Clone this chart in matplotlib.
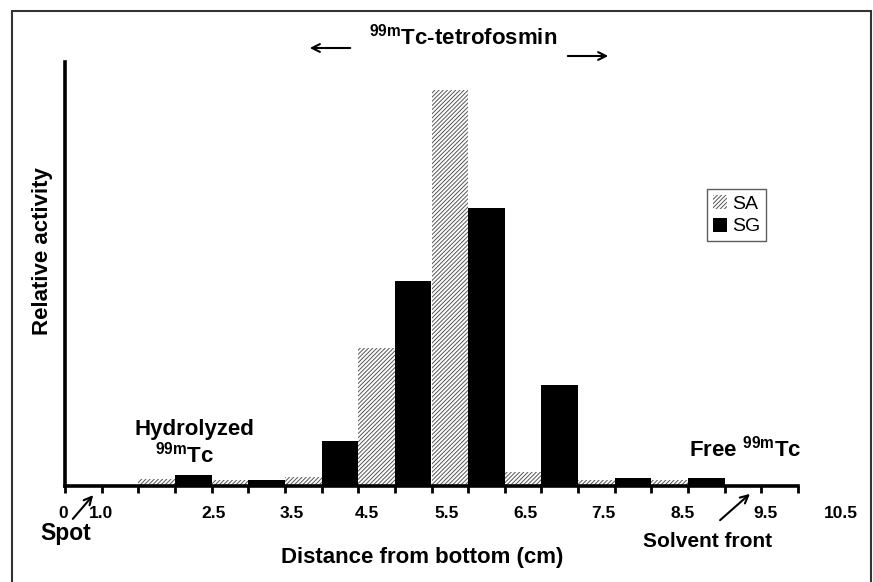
"""
Radio-TLC profile of 99mTc-tetrofosmin: SA vs SG strips.
"""

import matplotlib
matplotlib.use("Agg")
import matplotlib.pyplot as plt
import numpy as np
from matplotlib.patches import Patch, Rectangle

plt.rcParams["font.family"] = ["Liberation Sans", "DejaVu Sans"]
plt.rcParams["font.weight"] = "bold"
plt.rcParams["mathtext.fontset"] = "custom"
plt.rcParams["mathtext.rm"] = "Liberation Sans:bold"
plt.rcParams["mathtext.it"] = "Liberation Sans:bold"
plt.rcParams["mathtext.bf"] = "Liberation Sans:bold"
plt.rcParams["hatch.color"] = "#555555"
plt.rcParams["hatch.linewidth"] = 0.7

# segment index along the strip (10 segments), relative activity per strip
segments = np.arange(10)
sa_activity = [0, 0.017, 0.014, 0.021, 0.325, 0.934, 0.033, 0.014, 0.014, 0]
sg_activity = [0, 0.026, 0.014, 0.106, 0.483, 0.656, 0.238, 0.019, 0.019, 0]
tick_labels = ["0", "1.0", "2.5", "3.5", "4.5", "5.5", "6.5", "7.5", "8.5", "9.5", "10.5"]

# where the labels sit under the axis (they don't line up with ticks in the original)
label_x = [-0.02, 0.49, 2.02, 3.1, 4.12, 5.2, 6.28, 7.34, 8.42, 9.56, 10.59]

HATCH = "////////"
W, H = 873, 582
fig = plt.figure(figsize=(W / 100, H / 100), dpi=100)
ax = fig.add_axes([65 / W, 1 - 486 / H, 733 / W, 424 / H])

ax.bar(segments + 0.25, sa_activity, width=0.5, color="white", hatch=HATCH,
       edgecolor="#555555", linewidth=0, label="SA")
ax.bar(segments + 0.75, sg_activity, width=0.5, color="black", linewidth=0, label="SG")

ax.set_xlim(0, 10)
ax.set_ylim(0, 1)
for side in ("top", "right"):
    ax.spines[side].set_visible(False)
ax.spines["left"].set_linewidth(2.6)
ax.spines["bottom"].set_linewidth(2.6)
ax.set_yticks([])
ax.set_xticks(np.arange(0, 10.01, 0.5))
ax.set_xticklabels([])
ax.tick_params(axis="x", direction="out", length=5, width=2)

for x, lab in zip(label_x, tick_labels):
    ax.text(x, -0.065, lab, ha="center", va="center", fontsize=12.5,
            fontweight="bold", transform=ax.get_xaxis_transform())

ax.set_xlabel("Distance from bottom (cm)", fontsize=16, fontweight="bold")
ax.xaxis.set_label_coords(0.487, -0.143)
ax.set_ylabel("Relative activity", fontsize=16, fontweight="bold")
ax.yaxis.set_label_coords(-0.017, 0.555)

# annotations
fig.text(194 / W, 1 - 435 / H, "Hydrolyzed", fontsize=16, fontweight="bold",
         ha="center", va="baseline")
fig.text(185 / W, 1 - 462 / H, "$^{99m}$Tc", fontsize=16, fontweight="bold",
         ha="center", va="baseline")
fig.text(745 / W, 1 - 457 / H, "Free $^{99m}$Tc", fontsize=16, fontweight="bold",
         ha="center", va="baseline")
fig.text(66 / W, 1 - 540 / H, "Spot", fontsize=16.5, fontweight="bold",
         ha="center", va="baseline")
fig.text(708 / W, 1 - 547 / H, "Solvent front", fontsize=15, fontweight="bold",
         ha="center", va="baseline")
fig.text(463 / W, 1 - 44 / H, "$^{99m}$Tc-tetrofosmin", fontsize=16, fontweight="bold",
         ha="center", va="baseline")

arrow = dict(arrowstyle="->", color="black", lw=1.5, mutation_scale=14)
fig.add_artist(plt.Annotation("", xy=(95 / W, 1 - 493 / H), xytext=(71 / W, 1 - 521 / H),
                              xycoords="figure fraction", arrowprops=arrow))
fig.add_artist(plt.Annotation("", xy=(752 / W, 1 - 492 / H), xytext=(718 / W, 1 - 522 / H),
                              xycoords="figure fraction", arrowprops=arrow))
fig.add_artist(plt.Annotation("", xy=(307 / W, 1 - 48 / H), xytext=(353 / W, 1 - 48 / H),
                              xycoords="figure fraction", arrowprops=arrow))
fig.add_artist(plt.Annotation("", xy=(611 / W, 1 - 56 / H), xytext=(565 / W, 1 - 56 / H),
                              xycoords="figure fraction", arrowprops=arrow))

handles = [Patch(facecolor="white", hatch=HATCH, edgecolor="#555555", linewidth=0, label="SA"),
           Patch(facecolor="black", label="SG")]
leg = fig.legend(handles=handles, loc="upper left", bbox_to_anchor=(707 / W, 1 - 189 / H),
                 bbox_transform=fig.transFigure, frameon=True, fancybox=False,
                 prop={"size": 14, "weight": "normal"}, handlelength=0.75, handleheight=0.75,
                 handletextpad=0.25, borderpad=0.3, labelspacing=0.25, borderaxespad=0)
leg.get_frame().set_edgecolor("#333333")
leg.get_frame().set_linewidth(1.0)

# outer frame round the whole picture
fig.add_artist(Rectangle((12 / W, -0.01), 859 / W, 1.01 - 11 / H, transform=fig.transFigure,
                         fill=False, edgecolor="#333333", linewidth=1.5))

fig.savefig("out.png", dpi=100)
